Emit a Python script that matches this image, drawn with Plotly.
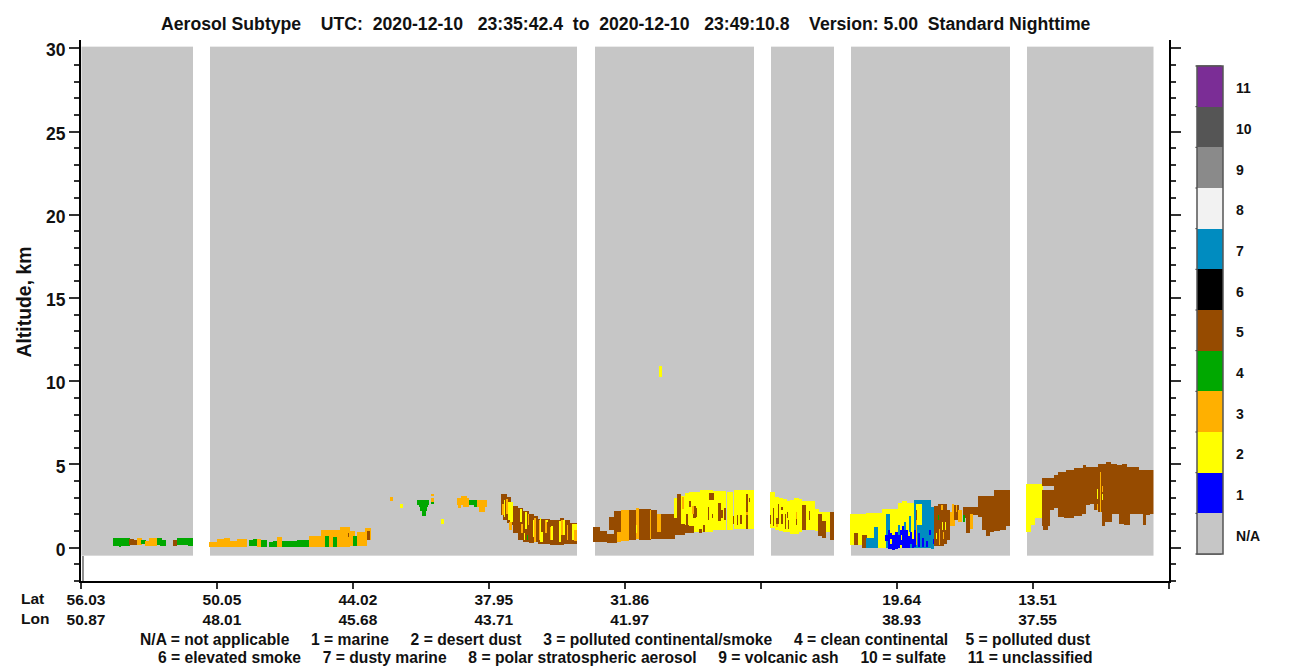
import numpy as np
import plotly.graph_objects as go

FONT = "Liberation Sans"

# Along-track position of ticks, with the latitude and longitude printed under them
tick_positions = [0, 136, 272, 408, 544, 680, 816, 952, 1088]
lat_labels = ["56.03", "50.05", "44.02", "37.95", "31.86", "", "19.64", "13.51", ""]
lon_labels = ["50.87", "48.01", "45.68", "43.71", "41.97", "", "38.93", "37.55", ""]

class_labels = ["N/A", "1", "2", "3", "4", "5", "6", "7", "8", "9", "10", "11"]
class_colors = ["#C6C6C6", "#0000FF", "#FFFF00", "#FFB000", "#00A800", "#964B00",
                "#000000", "#008CC0", "#F2F2F2", "#8A8A8A", "#555555", "#7B2D96"]

# Along-track extents that hold data (N/A curtain); the gaps between them have no data
curtain_segments = [(0.5, 111.5), (128.5, 495.5), (513.5, 672.5),
                    (689.5, 752.5), (769.5, 928.5), (945.5, 1072.5)]
curtain_bottom_km = -0.5
curtain_top_km = 30.1

# Layers: (class, x start, x end, top km, bottom km), later rows cover earlier ones
low_plume_north = [
    (4, 31.5, 48.5, 0.57, 0.11), (4, 37, 39.5, 0.2, 0.03), (5, 47.5, 52.5, 0.51, 0.15),
    (5, 52.5, 55.5, 0.45, 0.15), (3, 55.5, 60.5, 0.57, 0.15), (4, 59.5, 64.5, 0.45, 0.21),
    (3, 63.5, 67.5, 0.39, 0.09), (3, 67.5, 75.5, 0.61, 0.09), (4, 75.5, 80.5, 0.57, 0.15),
    (4, 78.5, 84.5, 0.45, 0.09), (5, 91.5, 95.5, 0.45, 0.09), (4, 95.5, 111.5, 0.57, 0.15),
    (4, 106.5, 111.5, 0.3, 0.09),
    (3, 127.5, 135.5, 0.33, 0.03), (3, 135.5, 142.5, 0.51, 0.03), (3, 142.5, 148.5, 0.57, 0.03),
    (3, 148.5, 155.5, 0.39, 0.03), (3, 155.5, 165.5, 0.51, 0.03), (4, 167.5, 171.5, 0.45, 0.09),
    (4, 171.5, 175.5, 0.51, 0.09), (3, 175.5, 179.5, 0.51, 0.03), (4, 179.5, 185.5, 0.45, 0.03),
    (4, 187.5, 191.5, 0.33, 0.03), (4, 191.5, 195.5, 0.39, 0.03), (4, 199.5, 215.5, 0.39, 0.03),
    (3, 195.5, 200.5, 0.63, 0.03), (4, 215.5, 227.5, 0.45, 0.03), (3, 227.5, 233.5, 0.69, 0.03),
    (3, 233.5, 239.5, 0.69, 0.03), (3, 239.5, 258.5, 1.05, 0.03), (4, 243.5, 247.5, 0.69, 0.03),
    (4, 251.5, 255.5, 0.63, 0.03), (3, 258.5, 268.5, 1.23, 0.03), (5, 266.5, 267.5, 0.87, 0.63),
    (3, 268.5, 273.5, 0.99, 0.09), (4, 271.5, 275.5, 0.69, 0.09), (3, 275.5, 285.5, 0.93, 0.09),
    (3, 283.5, 289.5, 1.17, 0.45), (5, 285.5, 288.5, 0.99, 0.45),
]

elevated_patches = [
    (3, 308.5, 311.5, 3.03, 2.79), (2, 318.5, 321.5, 2.61, 2.37),
    (4, 335.5, 347.5, 2.85, 2.55), (4, 337.5, 346.5, 2.55, 2.43),
    (4, 338.5, 345.5, 2.43, 2.19), (4, 340.5, 344.5, 2.19, 1.89),
    (3, 349.5, 352.5, 3.21, 3.09), (3, 349.5, 352.5, 3.0, 2.73), (4, 349.5, 352.5, 2.73, 2.61),
    (2, 359.5, 362.5, 1.71, 1.41), (3, 375.5, 387.5, 2.97, 2.55), (3, 379.5, 385.5, 3.09, 2.97),
    (3, 376.5, 379.5, 2.55, 2.37), (3, 381.5, 387.5, 2.55, 2.43), (4, 387.5, 395.5, 2.85, 2.55),
    (4, 392.5, 396.5, 2.55, 2.43), (3, 395.5, 405.5, 2.85, 2.43), (3, 397.5, 403.5, 2.43, 2.13),
    (2, 577.5, 580.5, 10.9, 10.26),
]

dust_plume_a = [
    (5, 419.5, 421.5, 3.21, 1.95), (5, 421.5, 425.5, 3.21, 1.65), (5, 425.5, 429.5, 3.03, 1.47),
    (5, 429.5, 431.5, 2.73, 1.35), (5, 431.5, 436.5, 2.49, 0.89), (5, 436.5, 441.5, 2.37, 0.45),
    (5, 441.5, 447.5, 2.19, 0.33), (5, 447.5, 452.5, 2.01, 0.27), (5, 452.5, 456.5, 1.89, 0.33),
    (5, 456.5, 468.5, 1.71, 0.21), (5, 468.5, 478.5, 1.65, 0.15), (5, 478.5, 482.5, 1.77, 0.15),
    (5, 482.5, 488.5, 1.65, 0.21), (5, 488.5, 495.5, 1.47, 0.21),
    (3, 420.5, 422.5, 2.61, 1.95), (2, 422.5, 423.5, 2.85, 1.85), (3, 424.5, 426.5, 2.91, 2.05),
    (2, 426.5, 428.5, 2.73, 1.65), (2, 428.5, 431.5, 2.73, 1.55), (3, 427.5, 430.5, 1.55, 1.05),
    (2, 438.5, 440.5, 2.31, 1.55), (3, 439.5, 441.5, 1.45, 0.85), (2, 443.5, 445.5, 2.13, 1.15),
    (3, 446.5, 447.5, 2.05, 1.35), (2, 442.5, 443.5, 0.85, 0.45), (4, 445.5, 446.5, 0.75, 0.49),
    (2, 451.5, 453.5, 1.65, 0.65), (3, 452.5, 454.5, 1.75, 0.35), (3, 457.5, 458.5, 1.65, 0.45),
    (2, 458.5, 459.5, 1.75, 0.35), (2, 459.5, 461.5, 0.95, 0.35), (3, 463.5, 465.5, 1.69, 0.85),
    (2, 464.5, 466.5, 1.69, 1.55), (3, 468.5, 469.5, 1.25, 0.45), (2, 469.5, 471.5, 1.29, 0.45),
    (2, 477.5, 479.5, 1.61, 0.35), (3, 479.5, 481.5, 1.65, 0.75), (2, 481.5, 483.5, 1.65, 0.75),
    (3, 485.5, 486.5, 1.35, 0.45), (2, 490.5, 492.5, 1.45, 0.45), (2, 492.5, 495.5, 1.45, 1.05),
    (3, 492.5, 495.5, 1.05, 0.41),
]

dust_plume_b = [
    (5, 511.5, 518.5, 1.23, 0.33), (5, 518.5, 525.5, 0.99, 0.33), (5, 525.5, 527.5, 0.81, 0.27),
    (5, 527.5, 532.5, 1.83, 1.05), (5, 527.5, 532.5, 0.81, 0.27), (5, 532.5, 535.5, 2.19, 0.27),
    (5, 535.5, 539.5, 2.19, 0.85), (3, 535.5, 539.5, 0.93, 0.33), (3, 539.5, 547.5, 2.25, 0.39),
    (5, 547.5, 554.5, 2.25, 0.45), (3, 554.5, 557.5, 2.37, 0.51), (2, 554.5, 555.5, 1.35, 0.85),
    (5, 557.5, 569.5, 2.31, 0.45), (5, 569.5, 575.5, 2.25, 0.51), (3, 568.5, 569.5, 2.25, 0.55),
    (3, 575.5, 579.5, 2.01, 0.93), (5, 575.5, 579.5, 0.93, 0.51), (5, 579.5, 593.5, 2.01, 0.55),
    (5, 593.5, 603.5, 2.01, 0.75), (5, 603.5, 612.5, 1.45, 0.85),
    (2, 592.5, 595.5, 2.97, 1.77), (5, 595.5, 599.5, 3.21, 0.75), (2, 599.5, 603.5, 3.09, 1.45),
    (2, 603.5, 607.5, 3.27, 1.35), (2, 607.5, 618.5, 3.33, 0.95), (2, 618.5, 631.5, 3.45, 0.95),
    (2, 631.5, 645, 3.39, 1.05), (2, 645, 652, 3.33, 1.09), (2, 652, 672.5, 3.45, 1.15),
    (5, 604.5, 612.5, 1.29, 0.89), (5, 627.5, 632.5, 3.27, 2.85), (5, 607.5, 609.5, 2.79, 2.45),
    (5, 604.5, 606.5, 2.05, 1.05), (5, 611.5, 614.5, 2.49, 1.75), (5, 613.5, 615.5, 2.35, 1.85),
    (5, 617.5, 620.5, 1.15, 0.89), (5, 621.5, 623.5, 1.35, 0.95), (5, 626.5, 627.5, 2.45, 1.65),
    (5, 630.5, 631.5, 2.05, 1.75), (5, 636.5, 639.5, 2.67, 1.61), (5, 639.5, 641.5, 2.25, 1.75),
    (5, 642.5, 644.5, 2.37, 1.65), (5, 651.5, 652.5, 1.89, 1.45), (5, 655.5, 656.5, 1.95, 1.35),
    (5, 658.5, 660.5, 1.95, 1.45), (5, 664.5, 666.5, 3.21, 2.05), (5, 664.5, 666.5, 1.95, 1.15),
    (5, 667.5, 668.5, 2.97, 2.73), (3, 600.5, 602.5, 3.03, 2.31), (3, 610.5, 612.5, 2.49, 2.05),
    (3, 664.5, 666.5, 2.15, 1.95),
]

desert_plume = [
    (2, 688.5, 693.5, 3.33, 1.17), (2, 693.5, 697.5, 3.03, 1.05), (2, 697.5, 701.5, 2.97, 0.99),
    (2, 701.5, 705.5, 2.91, 0.93), (2, 705.5, 708.5, 2.79, 0.93), (2, 708.5, 712.5, 2.85, 0.81),
    (2, 712.5, 717.5, 2.97, 0.81), (2, 717.5, 720.5, 2.91, 0.93), (2, 720.5, 733.5, 2.79, 1.05),
    (2, 733.5, 737.5, 2.31, 0.99), (2, 737.5, 748.5, 2.13, 0.95), (5, 748.5, 752.5, 2.13, 0.45),
    (5, 720.5, 724.5, 2.55, 1.05), (5, 688.5, 689.5, 1.95, 1.41), (5, 691.5, 692.5, 2.37, 1.29),
    (5, 696.5, 697.5, 2.61, 1.41), (5, 699.5, 701.5, 2.43, 2.25), (5, 699.5, 701.5, 2.01, 1.41),
    (5, 703.5, 704.5, 2.01, 1.15), (5, 705.5, 706.5, 2.13, 1.75), (5, 706.5, 707.5, 1.65, 1.11),
    (5, 714.5, 715.5, 1.71, 1.35), (5, 727.5, 728.5, 2.19, 1.65), (5, 736.5, 740.5, 2.01, 0.69),
    (5, 740.5, 744.5, 1.59, 0.57), (5, 694.5, 696.5, 1.77, 1.41), (3, 714.5, 715.5, 2.13, 1.71),
    (3, 694.5, 696.5, 1.41, 1.23),
]

marine_mix = [
    (2, 768.5, 784.5, 2.01, 0.15), (2, 784.5, 800.5, 2.07, -0.03), (2, 800.5, 816.5, 2.31, -0.03),
    (2, 816.5, 820.5, 2.67, -0.03), (2, 820.5, 825.5, 2.79, -0.03), (2, 825.5, 832.5, 2.67, -0.03),
    (5, 772.5, 776.5, 0.87, 0.15), (5, 780.5, 785.5, 0.75, -0.03), (7, 784.5, 792.5, 0.57, -0.03),
    (7, 792.5, 796.5, 1.23, -0.03), (7, 804.5, 808.5, 2.01, -0.03), (7, 832.5, 849.5, 2.85, -0.03),
    (7, 849.5, 852.5, 2.43, -0.05), (2, 834.5, 840.5, 2.65, 1.35), (5, 834.5, 835.5, 2.29, 1.15),
    (1, 803.5, 806.5, 0.75, 0.41), (1, 806.5, 808.5, 1.05, -0.05), (1, 808.5, 810.5, 0.85, -0.05),
    (1, 810.5, 813.5, 0.75, -0.15), (1, 813.5, 816.5, 0.95, -0.05), (1, 816.5, 818.5, 0.75, -0.01),
    (1, 818.5, 820.5, 1.09, 0.15), (1, 820.5, 822.5, 1.29, -0.01), (1, 822.5, 826.5, 1.05, -0.01),
    (1, 826.5, 828.5, 0.69, -0.01), (1, 828.5, 830.5, 0.95, 0.25), (1, 830.5, 832.5, 0.55, -0.01),
    (1, 832.5, 834.5, 1.05, 0.05), (1, 836.5, 838.5, 0.85, 0.05), (1, 840.5, 842.5, 0.61, 0.05),
    (1, 844.5, 846.5, 0.41, 0.05), (1, 847.5, 849.5, 1.05, 0.75), (1, 851.5, 853.5, 0.53, 0.25),
    (7, 816.5, 818.5, 1.35, 0.75), (7, 822.5, 824.5, 1.55, 1.05), (7, 827.5, 829.5, 1.89, 0.95),
    (7, 828.5, 830.5, 0.25, -0.01), (2, 808.5, 810.5, 0.55, 0.25), (2, 819.5, 820.5, 0.75, 0.45),
    (3, 834.5, 835.5, 1.65, 0.15),
    (5, 852.5, 856.5, 2.49, 0.09), (5, 856.5, 862.5, 2.61, 0.09), (5, 862.5, 865.5, 2.61, 0.21),
    (5, 865.5, 868.5, 2.25, 0.45), (3, 859.5, 861.5, 2.55, 2.25), (4, 856.5, 857.5, 1.95, 1.65),
    (3, 857.5, 858.5, 1.15, 0.15), (2, 860.5, 861.5, 1.55, 1.05), (2, 863.5, 864.5, 1.55, 1.05),
    (2, 854.5, 855.5, 0.85, 0.55), (3, 861.5, 862.5, 0.95, 0.55),
    (3, 868.5, 870.5, 2.13, 1.29), (3, 870.5, 872.5, 2.61, 1.29), (5, 872.5, 877.5, 2.55, 1.65),
    (3, 874.5, 875.5, 2.55, 2.15), (3, 871.5, 873.5, 1.65, 1.29), (3, 876.5, 880.5, 2.25, 1.53),
    (5, 881.5, 884.5, 2.43, 1.75), (4, 881.5, 883.5, 1.95, 1.53), (5, 884.5, 888.5, 2.43, 0.89),
    (5, 888.5, 896.5, 2.43, 1.95), (3, 888.5, 891.5, 2.01, 1.11), (5, 896.5, 900.5, 3.09, 1.85),
    (5, 900.5, 904.5, 3.09, 1.05), (5, 904.5, 908.5, 3.09, 0.69), (5, 908.5, 912.5, 3.09, 0.95),
    (5, 912.5, 918.5, 3.45, 0.99), (5, 918.5, 924.5, 3.45, 1.05), (5, 924.5, 928.5, 3.45, 1.29),
]

southern_dust = [
    (2, 944.5, 949.5, 3.81, 0.93), (2, 949.5, 953.5, 3.81, 1.35), (2, 953.5, 960.5, 3.81, 1.75),
    (2, 960.5, 961.5, 3.69, 3.49), (5, 960.5, 972.5, 4.17, 3.69),
    (5, 960.5, 961.5, 3.45, 1.29), (5, 961.5, 966.5, 3.45, 1.05), (5, 966.5, 968.5, 3.45, 1.29),
    (5, 968.5, 972.5, 3.45, 2.25), (5, 972.5, 976.5, 4.35, 2.35), (5, 976.5, 982.5, 4.53, 1.85),
    (5, 982.5, 984.5, 4.53, 1.77), (5, 984.5, 992.5, 4.65, 1.77), (5, 992.5, 1000.5, 4.77, 1.89),
    (5, 1000.5, 1001.5, 4.77, 2.05), (5, 1001.5, 1004.5, 4.95, 2.05), (5, 1004.5, 1008.5, 4.83, 2.55),
    (5, 1008.5, 1012.5, 4.83, 2.65), (5, 1012.5, 1016.5, 4.83, 2.29), (5, 1016.5, 1020.5, 5.01, 2.15),
    (5, 1020.5, 1023.5, 5.01, 1.29), (5, 1023.5, 1024.5, 5.01, 1.55), (5, 1024.5, 1029.5, 5.13, 1.55),
    (5, 1029.5, 1030.5, 5.01, 1.55), (5, 1030.5, 1035.5, 5.01, 2.05), (5, 1035.5, 1037.5, 4.95, 2.05),
    (5, 1037.5, 1040.5, 4.95, 1.41), (5, 1040.5, 1042.5, 5.01, 1.41), (5, 1042.5, 1045.5, 5.01, 1.35),
    (5, 1045.5, 1048.5, 4.83, 1.35), (5, 1048.5, 1057.5, 4.83, 2.05), (5, 1057.5, 1061.5, 4.65, 2.05),
    (5, 1061.5, 1064.5, 4.65, 1.35), (5, 1064.5, 1068.5, 4.65, 1.95), (5, 1068.5, 1072.5, 4.65, 2.05),
    (3, 1018.5, 1019.5, 4.53, 2.15), (2, 1015.5, 1016.5, 3.51, 2.91), (3, 1015.5, 1016.5, 2.65, 2.25),
    (3, 1020.5, 1021.5, 3.69, 3.33), (2, 1020.5, 1021.5, 3.21, 2.85),
]

all_layers = (low_plume_north + elevated_patches + dust_plume_a + dust_plume_b
              + desert_plume + marine_mix + southern_dust)

# Fill the vertical feature mask grid from the tables above
x_cells = np.arange(1.0, 1073.0)
y_cells = np.arange(curtain_bottom_km + 0.03, curtain_top_km, 0.06)
mask = np.full((y_cells.size, x_cells.size), np.nan, dtype=np.float32)
for start, end in curtain_segments:
    mask[:, (x_cells > start) & (x_cells < end)] = 0
for cls, x0, x1, top, bottom in all_layers:
    rows = (y_cells >= bottom) & (y_cells < top)
    cols = (x_cells > x0) & (x_cells < x1)
    mask[np.ix_(rows, cols)] = cls

# Discrete colour scale: one flat band per class
n = len(class_colors)
colorscale = []
for i, c in enumerate(class_colors):
    colorscale += [[i / n, c], [(i + 1) / n, c]]

WIDTH, HEIGHT = 1300, 667
LEFT, RIGHT, TOP, BOTTOM = 81, 1169.5, 40, 581
BAR_LEFT, BAR_RIGHT, BAR_TOP, BAR_BOTTOM = 1196, 1222, 66, 554
PW, PH = RIGHT - LEFT, BOTTOM - TOP


def px(x_pixel):
    return (x_pixel - LEFT) / PW


def py(y_pixel):
    return (BOTTOM - y_pixel) / PH


fig = go.Figure()
fig.add_trace(go.Heatmap(
    x=x_cells, y=y_cells, z=mask, zmin=-0.5, zmax=n - 0.5, colorscale=colorscale,
    hoverongaps=False, zsmooth=False,
    colorbar=dict(
        xref="paper", yref="paper", x=px(BAR_LEFT + 1.5), xanchor="left",
        y=py(BAR_BOTTOM), yanchor="bottom",
        lenmode="pixels", len=BAR_BOTTOM - BAR_TOP, thickness=BAR_RIGHT - BAR_LEFT,
        thicknessmode="pixels", xpad=0, ypad=0,
        tickmode="array", tickvals=[i - 0.05 for i in range(n)], ticktext=class_labels,
        ticks="outside", ticklen=10, tickcolor="rgba(0,0,0,0)",
        tickfont=dict(family=FONT, size=14, weight=700, color="#111"),
        outlinecolor="#555", outlinewidth=1.5,
    ),
))
# Empty trace that brings the right-hand altitude axis into existence
fig.add_trace(go.Scatter(x=[None], y=[None], yaxis="y2", showlegend=False, hoverinfo="skip"))

y_common = dict(
    range=[-2, 30.5], tick0=0, dtick=5, ticks="outside", ticklen=10, tickwidth=1.5,
    tickcolor="#333", showgrid=False, zeroline=False, showline=True, linecolor="#000", linewidth=2,
    minor=dict(dtick=1, tick0=0, ticks="outside", ticklen=5, tickwidth=1.5, tickcolor="#333", showgrid=False),
)

bold = lambda size: dict(family=FONT, size=size, weight=700, color="#111")

fig.update_layout(
    width=WIDTH, height=HEIGHT, paper_bgcolor="white", plot_bgcolor="white",
    margin=dict(l=LEFT, r=WIDTH - RIGHT, t=TOP, b=HEIGHT - BOTTOM, pad=0, autoexpand=False),
    showlegend=False,
    xaxis=dict(
        range=[0, PW], tickmode="array", tickvals=tick_positions,
        ticktext=[f"{a}<br>{b}" for a, b in zip(lat_labels, lon_labels)],
        ticks="outside", ticklen=6, tickwidth=1.5, tickcolor="#333",
        tickfont=bold(15.5), tickangle=0, ticklabelshift=5, ticklabelstandoff=-3,
        showgrid=False, zeroline=False, showline=True, linecolor="#000", linewidth=2,
    ),
    yaxis=dict(**y_common, side="left", tickfont=bold(17.5), ticklabelshift=2),
    yaxis2=dict(**y_common, side="right", overlaying="y", showticklabels=False),
    annotations=[
        dict(text="Aerosol Subtype    UTC:  2020-12-10   23:35:42.4  to  2020-12-10   23:49:10.8    Version: 5.00  Standard Nighttime",
             xref="paper", yref="paper", x=px(626.5), y=py(24),
             showarrow=False, xanchor="center", yanchor="middle", font=bold(17.65)),
        dict(text="Altitude, km", xref="paper", yref="paper", x=px(23), y=py(302.5), textangle=-90,
             showarrow=False, xanchor="center", yanchor="middle", font=bold(19.4)),
        dict(text="Lat", xref="paper", yref="paper", x=px(19), y=py(598),
             showarrow=False, xanchor="left", yanchor="middle", font=bold(15.5)),
        dict(text="Lon", xref="paper", yref="paper", x=px(19), y=py(618),
             showarrow=False, xanchor="left", yanchor="middle", font=bold(15.5)),
        dict(text="N/A = not applicable     1 = marine     2 = desert dust     3 = polluted continental/smoke     4 = clean continental    5 = polluted dust",
             xref="paper", yref="paper", x=px(615.5), y=py(639),
             showarrow=False, xanchor="center", yanchor="middle", font=bold(15.65)),
        dict(text="6 = elevated smoke     7 = dusty marine     8 = polar stratospheric aerosol     9 = volcanic ash     10 = sulfate     11 = unclassified",
             xref="paper", yref="paper", x=px(625.5), y=py(657),
             showarrow=False, xanchor="center", yanchor="middle", font=bold(15.65)),
    ],
    shapes=[
        dict(type="line", xref="paper", yref="paper",
             x0=px(BAR_LEFT), x1=px(BAR_RIGHT),
             y0=py(BAR_TOP + i * (BAR_BOTTOM - BAR_TOP) / n),
             y1=py(BAR_TOP + i * (BAR_BOTTOM - BAR_TOP) / n),
             line=dict(color="#111", width=1))
        for i in range(n + 1)
    ] + [
        dict(type="line", xref="paper", yref="paper", x0=px(83), x1=px(83),
             y0=py(581), y1=py(556), line=dict(color="#222", width=1))
    ],
)

fig.write_html("out.html", config={"displayModeBar": False},
               post_script="document.body.style.margin='0';")
